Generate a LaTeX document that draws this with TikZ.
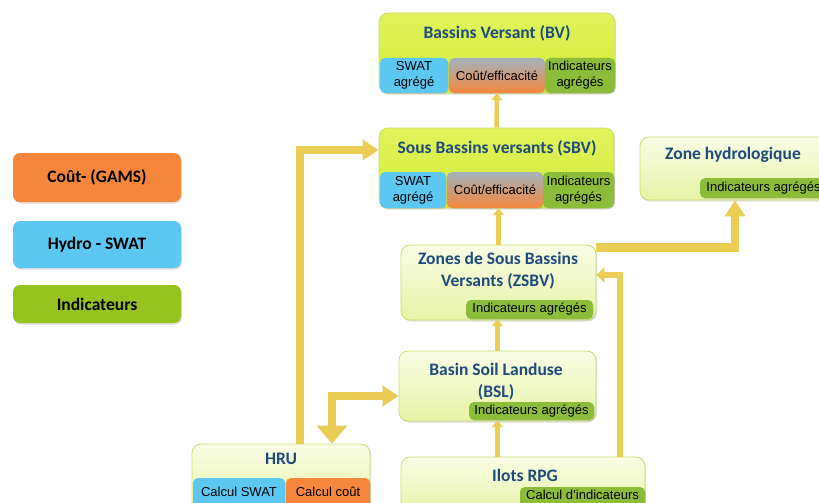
\documentclass[tikz,border=0pt]{standalone}
\usepackage{fontspec}
\setmainfont{Carlito}
\newfontfamily\labelfont{Liberation Sans}
\usetikzlibrary{arrows.meta,shadows}

\definecolor{titleblue}{HTML}{1F4A7C}
\definecolor{swatblue}{HTML}{5CC8F2}
\definecolor{coutorange}{HTML}{F5873D}
\definecolor{costgray}{HTML}{A3B2BC}
\definecolor{indgreen}{HTML}{8CBD3A}
\definecolor{legendgreen}{HTML}{97C31E}
\definecolor{flowyellow}{HTML}{E9CD55}
\definecolor{boxline}{HTML}{C9DC6E}
\definecolor{brighttop}{HTML}{E0F35C}
\definecolor{brightbot}{HTML}{D3EB36}
\definecolor{paletop}{HTML}{FAFDE6}
\definecolor{palebot}{HTML}{E6F3A6}

\begin{document}
\begin{tikzpicture}[x=1pt,y=-1pt,
    mainbox/.style={rectangle,rounded corners=9pt,draw=boxline,line width=0.8pt,
        drop shadow={opacity=0.25,shadow xshift=1pt,shadow yshift=-1.5pt}},
    brightbox/.style={mainbox,top color=brighttop,bottom color=brightbot},
    palebox/.style={mainbox,top color=paletop,bottom color=palebot},
    subbox/.style={rectangle,rounded corners=5pt,inner sep=1pt,align=center,
        font=\labelfont\fontsize{13}{16}\selectfont,
        drop shadow={opacity=0.2,shadow xshift=0.8pt,shadow yshift=-1pt}},
    costbox/.style={subbox,top color=costgray,middle color=coutorange,bottom color=coutorange},
    sublabel/.style={font=\labelfont\fontsize{13}{16}\selectfont},
    title/.style={align=center,text=titleblue,font=\bfseries\fontsize{17.5}{22}\selectfont},
    legend/.style={rectangle,rounded corners=7pt,minimum width=168pt,
        font=\bfseries\fontsize{17.5}{20}\selectfont,
        drop shadow={opacity=0.25,shadow xshift=1pt,shadow yshift=-1.5pt}},
    thinflow/.style={draw=flowyellow,line width=4.5pt,-{Triangle[width=11pt,length=7pt]}},
    midflow/.style={draw=flowyellow,line width=6pt,-{Triangle[width=15pt,length=8pt]}},
    bigflow/.style={draw=flowyellow,line width=8.5pt,-{Triangle[width=20pt,length=16pt]}}]

\useasboundingbox (0,0) rectangle (819,503);

% legende
\node (legcout) at (97,177.5) [legend,fill=coutorange,minimum height=49pt] {Coût- (GAMS)};
\node (leghydro) at (97,244.5) [legend,fill=swatblue,minimum height=47pt] {Hydro - SWAT};
\node (legind) at (97,304) [legend,fill=legendgreen,minimum height=38pt] {Indicateurs};

% bassins versants
\node (bv) at (497,53) [brightbox,minimum width=236pt,minimum height=80pt] {};
\node (bvtitle) at (497,33) [title] {Bassins Versant (BV)};
\node (bvswat) at (414,75.5) [subbox,fill=swatblue,minimum width=68pt,minimum height=35pt] {SWAT\\agrégé};
\node (bvcout) at (497,75.5) [costbox,minimum width=96pt,minimum height=35pt] {Coût/efficacité};
\node (bvind) at (580,75.5) [subbox,fill=indgreen,minimum width=70pt,minimum height=35pt] {Indicateurs\\agrégés};

% sous bassins versants
\node (sbv) at (496.5,168) [brightbox,minimum width=235pt,minimum height=80pt] {};
\node (sbvtitle) at (497,148) [title] {Sous Bassins versants (SBV)};
\node (sbvswat) at (413,190) [subbox,fill=swatblue,minimum width=66pt,minimum height=36pt] {SWAT\\agrégé};
\node (sbvcout) at (495,190) [costbox,minimum width=96pt,minimum height=36pt] {Coût/efficacité};
\node (sbvind) at (578.5,190) [subbox,fill=indgreen,minimum width=71pt,minimum height=36pt] {Indicateurs\\agrégés};

% zone hydrologique
\node (zh) at (735,168.5) [palebox,minimum width=190pt,minimum height=63pt] {};
\node (zhtitle) at (733,155) [title] {Zone hydrologique};
\node (zhind) at (763.5,188) [subbox,fill=indgreen,minimum width=127pt,minimum height=20pt] {Indicateurs agrégés};

% zones de sous bassins
\node (zsbv) at (498.5,282.5) [palebox,minimum width=195pt,minimum height=75pt] {};
\node (zsbvtitle) at (498,271) [title] {Zones de Sous Bassins\\Versants (ZSBV)};
\node (zsbvind) at (529.5,309.5) [subbox,fill=indgreen,minimum width=127pt,minimum height=19pt] {Indicateurs agrégés};

% basin soil landuse
\node (bsl) at (497.5,386) [palebox,minimum width=197pt,minimum height=70pt] {};
\node (bsltitle) at (496,382) [title] {Basin Soil Landuse\\(BSL)};
\node (bslind) at (531.5,411) [subbox,fill=indgreen,minimum width=125pt,minimum height=18pt] {Indicateurs agrégés};

% hru
\node (hru) at (281,478) [palebox,minimum width=178pt,minimum height=68pt] {};
\node (hrutitle) at (281,459) [title] {HRU};
\node (hruswat) at (239,495) [subbox,fill=swatblue,minimum width=92pt,minimum height=34pt] {};
\node (hrucout) at (328,495) [subbox,fill=coutorange,minimum width=84pt,minimum height=34pt] {};
\node at (239,492) [sublabel] {Calcul SWAT};
\node at (328,492) [sublabel] {Calcul coût};

% ilots rpg
\node (ilots) at (523,486) [palebox,minimum width=244pt,minimum height=58pt] {};
\node (ilotstitle) at (525,475) [title] {Ilots RPG};
\node (ilotsind) at (582.5,499.5) [subbox,fill=indgreen,minimum width=125pt,minimum height=25pt] {};
\node at (582.5,495) [sublabel] {Calcul d’indicateurs};

% fleches
\draw[thinflow] (sbv.north) -- (bvcout.south);
\draw[thinflow] (zsbv.north) -- (zsbv.north |- sbvcout.south);
\draw[thinflow] (bsl.north) -- (bsl.north |- zsbvind.south);
\draw[thinflow] (bsl.north |- ilots.north) -- (bsl.north |- bslind.south);
\draw[midflow] ([xshift=97pt]ilots.north) |- ([yshift=7.5pt]zsbv.east);
\draw[bigflow] ([yshift=35pt]zsbv.east) -| (zh.south);
\draw[bigflow] ([xshift=19pt]hru.north) |- ([yshift=18pt]sbv.west);
\draw[bigflow,{Triangle[width=20pt,length=16pt]}-{Triangle[width=30pt,length=18pt]}]
    ([yshift=-10pt]bsl.west) -| ([xshift=51pt]hru.north);

\end{tikzpicture}
\end{document}
